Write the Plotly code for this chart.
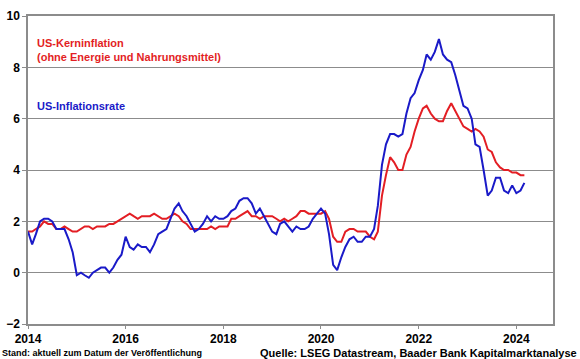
import plotly.graph_objects as go
import pandas as pd

dates = pd.date_range("2014-01-01", "2024-03-01", freq="MS")

headline = [
    1.6, 1.1, 1.5, 2.0, 2.1, 2.1, 2.0, 1.7, 1.7, 1.7, 1.3, 0.8,
    -0.1, 0.0, -0.1, -0.2, 0.0, 0.1, 0.2, 0.2, 0.0, 0.2, 0.5, 0.7,
    1.4, 1.0, 0.9, 1.1, 1.0, 1.0, 0.8, 1.1, 1.5, 1.6, 1.7, 2.1,
    2.5, 2.7, 2.4, 2.2, 1.9, 1.6, 1.7, 1.9, 2.2, 2.0, 2.2, 2.1,
    2.1, 2.2, 2.4, 2.5, 2.8, 2.9, 2.9, 2.7, 2.3, 2.5, 2.2, 1.9,
    1.6, 1.5, 1.9, 2.0, 1.8, 1.6, 1.8, 1.7, 1.7, 1.8, 2.1, 2.3,
    2.5, 2.3, 1.5, 0.3, 0.1, 0.6, 1.0, 1.3, 1.4, 1.2, 1.2, 1.4,
    1.4, 1.7, 2.6, 4.2, 5.0, 5.4, 5.4, 5.3, 5.4, 6.2, 6.8, 7.0,
    7.5, 7.9, 8.5, 8.3, 8.6, 9.1, 8.5, 8.3, 8.2, 7.7, 7.1, 6.5,
    6.4, 6.0, 5.0, 4.9, 4.0, 3.0, 3.2, 3.7, 3.7, 3.2, 3.1, 3.4,
    3.1, 3.2, 3.5,
]

core = [
    1.6, 1.6, 1.7, 1.8, 2.0, 1.9, 1.9, 1.7, 1.7, 1.8, 1.7, 1.6,
    1.6, 1.7, 1.8, 1.8, 1.7, 1.8, 1.8, 1.8, 1.9, 1.9, 2.0, 2.1,
    2.2, 2.3, 2.2, 2.1, 2.2, 2.2, 2.2, 2.3, 2.2, 2.1, 2.1, 2.2,
    2.3, 2.2, 2.0, 1.9, 1.7, 1.7, 1.7, 1.7, 1.7, 1.8, 1.7, 1.8,
    1.8, 1.8, 2.1, 2.1, 2.2, 2.3, 2.4, 2.2, 2.2, 2.1, 2.2, 2.2,
    2.2, 2.1, 2.0, 2.1, 2.0, 2.1, 2.2, 2.4, 2.4, 2.3, 2.3, 2.3,
    2.3, 2.4, 2.1, 1.4, 1.2, 1.2, 1.6, 1.7, 1.7, 1.6, 1.6, 1.6,
    1.4, 1.3, 1.6, 3.0, 3.8, 4.5, 4.3, 4.0, 4.0, 4.6, 4.9, 5.5,
    6.0, 6.4, 6.5, 6.2, 6.0, 5.9, 5.9, 6.3, 6.6, 6.3, 6.0, 5.7,
    5.6, 5.5, 5.6, 5.5, 5.3, 4.8, 4.7, 4.3, 4.1, 4.0, 4.0, 3.9,
    3.9, 3.8, 3.8,
]

x_ticks = ["2014-01-01", "2016-01-01", "2018-01-01", "2020-01-01", "2022-01-01", "2024-01-01"]
x_tick_labels = ["2014", "2016", "2018", "2020", "2022", "2024"]
y_ticks = [-2, 0, 2, 4, 6, 8, 10]

RED = "#e31e24"
BLUE = "#1a1ac8"
GRID = "#8c8c8c"
FONT = "Liberation Sans"

fig = go.Figure()
fig.add_trace(go.Scatter(x=dates, y=core, mode="lines", line=dict(color=RED, width=2),
                         name="US-Kerninflation"))
fig.add_trace(go.Scatter(x=dates, y=headline, mode="lines", line=dict(color=BLUE, width=2),
                         name="US-Inflationsrate"))

fig.update_layout(
    width=580, height=359,
    margin=dict(l=28, r=27, t=16, b=35, autoexpand=False),
    paper_bgcolor="white", plot_bgcolor="white",
    showlegend=False,
    font=dict(family=FONT, size=11, color="black"),
    xaxis=dict(
        range=["2014-01-01", "2024-10-01"], automargin=False,
        tickvals=x_ticks, ticktext=x_tick_labels,
        showgrid=False, showline=True, linecolor=GRID, linewidth=1.5, mirror=True,
        ticks="outside", ticklen=3, tickcolor=GRID,
        tickfont=dict(family=FONT, size=12, color="black", weight="bold"),
        zeroline=False,
    ),
    yaxis=dict(
        range=[-2, 10], tickvals=y_ticks, automargin=False,
        showgrid=True, gridcolor=GRID, gridwidth=1.2,
        showline=True, linecolor=GRID, linewidth=1.5, mirror=True,
        ticks="outside", ticklen=4, tickcolor=GRID,
        tickfont=dict(family=FONT, size=12, color="black", weight="bold"),
        zeroline=False,
    ),
)

fig.add_annotation(xref="paper", yref="paper", x=0.013, y=0.888,
                   text="US-Kerninflation<br>(ohne Energie und Nahrungsmittel)",
                   showarrow=False, xanchor="left", yanchor="middle", align="left",
                   font=dict(family=FONT, size=11, color=RED, weight="bold"))
fig.add_annotation(xref="paper", yref="paper", x=0.013, y=0.708,
                   text="US-Inflationsrate",
                   showarrow=False, xanchor="left", yanchor="middle", align="left",
                   font=dict(family=FONT, size=11, color=BLUE, weight="bold"))
fig.add_annotation(xref="paper", yref="paper", x=-28 / 524.7, y=-0.094,
                   text="Stand: aktuell zum Datum der Veröffentlichung",
                   showarrow=False, xanchor="left", yanchor="middle",
                   font=dict(family=FONT, size=9, color="black", weight="bold"))
fig.add_annotation(xref="paper", yref="paper", x=1 + 26 / 524.7, y=-0.094,
                   text="Quelle: LSEG Datastream, Baader Bank Kapitalmarktanalyse",
                   showarrow=False, xanchor="right", yanchor="middle",
                   font=dict(family=FONT, size=11, color="black", weight="bold"))

fig.write_html("out.html", config={"displayModeBar": False},
               post_script="document.body.style.margin='0';document.body.style.overflow='hidden';")
